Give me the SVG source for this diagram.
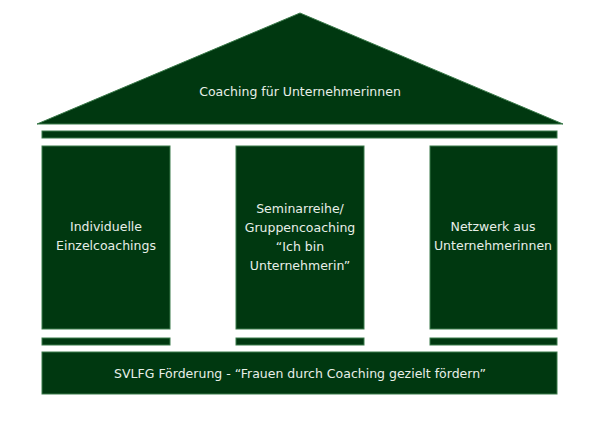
<svg xmlns="http://www.w3.org/2000/svg" width="600" height="424" viewBox="0 0 600 424">
<style>
.b{fill:#003810;stroke:#3a7a4a;stroke-width:1}
text{font-family:"DejaVu Sans","Verdana",sans-serif;font-size:12.5px;fill:#e8efe8;text-anchor:middle}
</style>
<rect width="600" height="424" fill="#fff"/>
<g id="roof"><polygon class="b" points="37,124 300,13 563,124"/><text x="300" y="96">Coaching für Unternehmerinnen</text></g>
<g id="beam"><rect class="b" x="42" y="131" width="515" height="7"/></g>
<g id="p1"><rect class="b" x="42" y="146" width="128" height="183"/><text x="106" y="231">Individuelle</text><text x="106" y="250">Einzelcoachings</text><rect class="b" x="42" y="338" width="128" height="7"/></g>
<g id="p2"><rect class="b" x="236" y="146" width="128" height="183"/><text x="300" y="213">Seminarreihe/</text><text x="300" y="232">Gruppencoaching</text><text x="300" y="251">“Ich bin</text><text x="300" y="270">Unternehmerin”</text><rect class="b" x="236" y="338" width="128" height="7"/></g>
<g id="p3"><rect class="b" x="430" y="146" width="127" height="183"/><text x="493" y="231">Netzwerk aus</text><text x="493" y="250">Unternehmerinnen</text><rect class="b" x="430" y="338" width="127" height="7"/></g>
<g id="base"><rect class="b" x="42" y="352" width="515" height="42"/><text x="300" y="378">SVLFG Förderung - “Frauen durch Coaching gezielt fördern”</text></g>
<g id="connectors"/>
</svg>
